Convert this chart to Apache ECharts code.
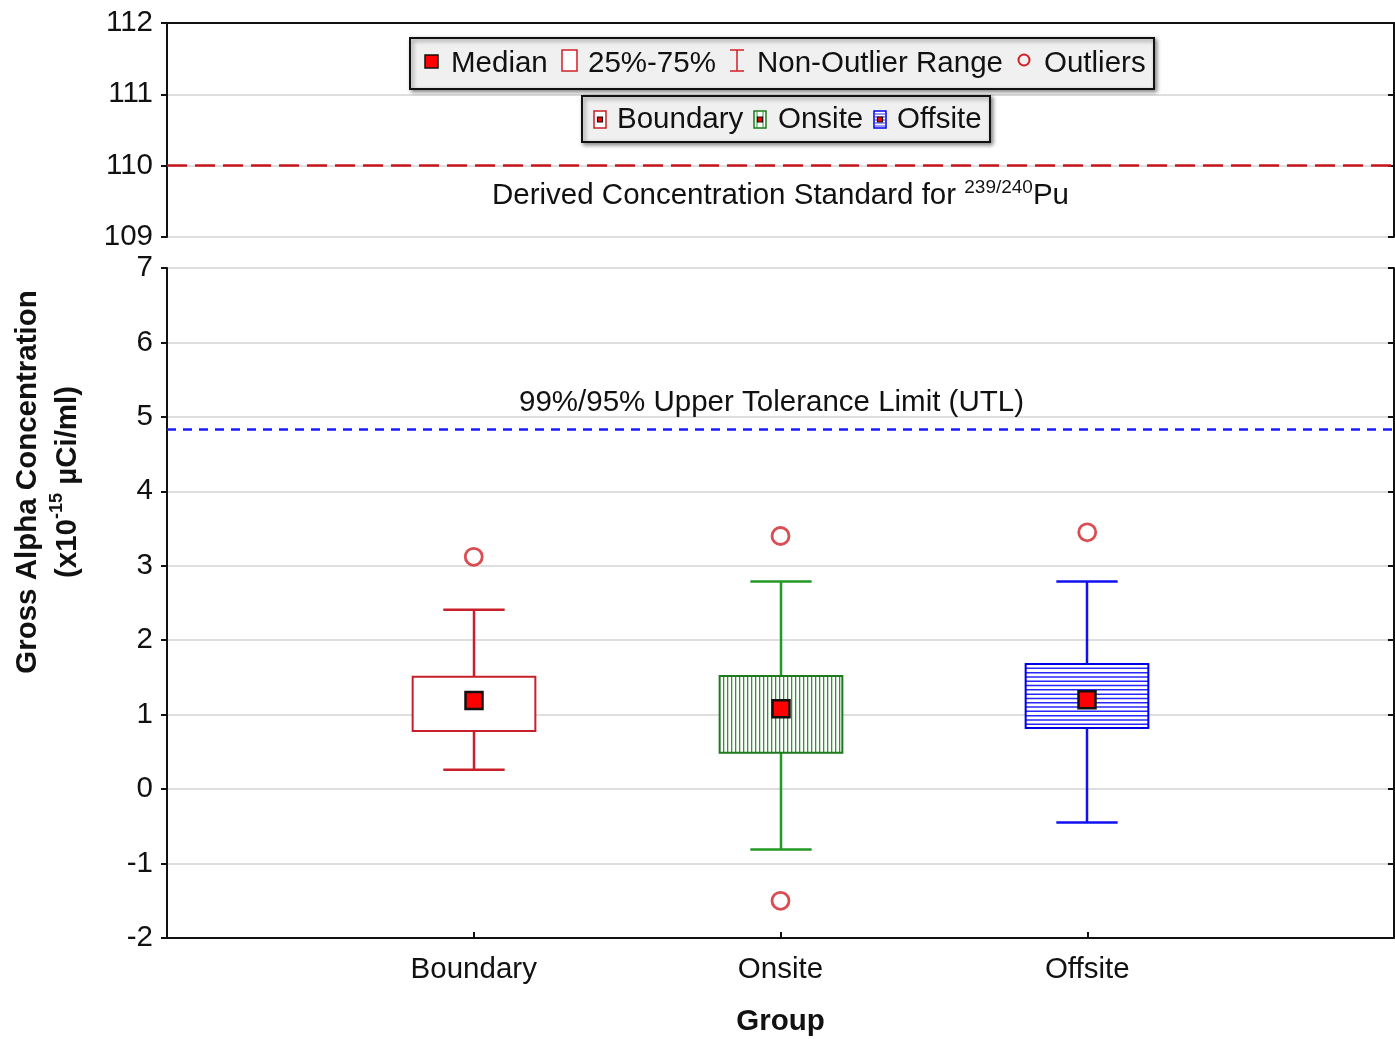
<!DOCTYPE html>
<html>
<head>
<meta charset="utf-8">
<title>Gross Alpha Concentration by Group</title>
<script src="https://cdn.jsdelivr.net/npm/echarts@6/dist/echarts.min.js"></script>
<style>
  html, body { margin: 0; padding: 0; background: #ffffff; }
  #chart { width: 1395px; height: 1039px; }
</style>
</head>
<body>
<div id="chart"></div>
<script>
// ---- Data ----------------------------------------------------------------
const groups = ['Boundary', 'Onsite', 'Offsite'];
const groupPos = [1, 2, 3];                 // position of each group on the x scale
const whiskerLow = [0.26, -0.81, -0.45];    // non-outlier minimum
const q1 = [0.78, 0.49, 0.82];              // 25th percentile
const median = [1.19, 1.08, 1.20];
const q3 = [1.51, 1.52, 1.68];              // 75th percentile
const whiskerHigh = [2.41, 2.79, 2.79];     // non-outlier maximum
const outlierGroup = [1, 2, 2, 3];
const outlierValue = [3.12, 3.40, -1.50, 3.45];
const dcsValue = 110;                       // Derived Concentration Standard
const utlValue = 4.84;                      // 99%/95% Upper Tolerance Limit
const upperTicks = [109, 110, 111, 112];
const lowerTicks = [-2, -1, 0, 1, 2, 3, 4, 5, 6, 7];

// ---- Styling -------------------------------------------------------------
const FONT = "'Liberation Sans', Arial, sans-serif";
const FS = 29.5;
const RED = '#d21f26';
const groupStyle = [
  { stroke: '#c8202a', hatch: null, hatchColor: null },
  { stroke: '#1d7a1d', hatch: 'vertical', hatchColor: '#2e962e' },
  { stroke: '#0000e6', hatch: 'horizontal', hatchColor: '#2828ff' }
];
const whiskerColor = ['#c8202a', '#239a23', '#1010f0'];

const boxData = groupPos.map((x, i) => [x, whiskerLow[i], q1[i], median[i], q3[i], whiskerHigh[i]]);
const outlierData = outlierGroup.map((g, i) => [g, outlierValue[i]]);

// Draws one box: whisker, caps, interquartile box with hatching and the median marker
function renderBox(params, api) {
  const i = params.dataIndex;
  const x = api.value(0);
  const st = groupStyle[i];
  const wc = whiskerColor[i];
  const pLo = api.coord([x, api.value(1)]);
  const pMed = api.coord([x, api.value(3)]);
  const pQ1 = api.coord([x, api.value(2)]);
  const pQ3 = api.coord([x, api.value(4)]);
  const pHi = api.coord([x, api.value(5)]);
  const boxW = api.size([0.4, 0])[0];
  const capW = api.size([0.2, 0])[0];
  const cx = Math.round(pMed[0]);
  const left = cx - boxW / 2, right = cx + boxW / 2;
  const top = pQ3[1], bottom = pQ1[1];
  const children = [];
  const lineStyle = { stroke: wc, lineWidth: 2.5 };
  children.push({ type: 'line', shape: { x1: cx, y1: pLo[1], x2: cx, y2: pHi[1] }, style: lineStyle });
  children.push({ type: 'line', shape: { x1: cx - capW / 2, y1: pLo[1], x2: cx + capW / 2, y2: pLo[1] }, style: lineStyle });
  children.push({ type: 'line', shape: { x1: cx - capW / 2, y1: pHi[1], x2: cx + capW / 2, y2: pHi[1] }, style: lineStyle });
  children.push({ type: 'rect', shape: { x: left, y: top, width: boxW, height: bottom - top }, style: { fill: '#ffffff', stroke: null } });
  if (st.hatch === 'vertical') {
    for (let hx = left + 4; hx < right - 1; hx += 4) {
      children.push({ type: 'line', shape: { x1: hx, y1: top, x2: hx, y2: bottom }, style: { stroke: st.hatchColor, lineWidth: 1.3 } });
    }
  } else if (st.hatch === 'horizontal') {
    for (let hy = top + 4.3; hy < bottom - 1; hy += 4.3) {
      children.push({ type: 'line', shape: { x1: left, y1: hy, x2: right, y2: hy }, style: { stroke: st.hatchColor, lineWidth: 1.5 } });
    }
  }
  children.push({ type: 'rect', shape: { x: left, y: top, width: boxW, height: bottom - top }, style: { fill: null, stroke: st.stroke, lineWidth: 2 } });
  children.push({ type: 'rect', shape: { x: cx - 8.5, y: pMed[1] - 8.5, width: 17, height: 17 }, style: { fill: '#ff0000', stroke: '#111111', lineWidth: 2.5 } });
  return { type: 'group', children: children };
}

// ---- Legend graphics -----------------------------------------------------
function legendText(x, y, text) {
  return { type: 'text', x: x, y: y, z: 11, style: { text: text, font: FS + 'px ' + FONT, fill: '#111111', verticalAlign: 'middle', align: 'left' } };
}
function groupIcon(x, y, color, hatch, hatchColor) {
  const parts = [{ type: 'rect', z: 11, shape: { x: x, y: y, width: 12, height: 17 }, style: { fill: '#ffffff', stroke: color, lineWidth: 1.5 } }];
  if (hatch === 'v') {
    parts.push({ type: 'line', z: 12, shape: { x1: x + 3, y1: y, x2: x + 3, y2: y + 17 }, style: { stroke: hatchColor, lineWidth: 1 } });
    parts.push({ type: 'line', z: 12, shape: { x1: x + 9, y1: y, x2: x + 9, y2: y + 17 }, style: { stroke: hatchColor, lineWidth: 1 } });
  } else if (hatch === 'h') {
    for (let k = 3; k < 17; k += 3) {
      parts.push({ type: 'line', z: 12, shape: { x1: x, y1: y + k, x2: x + 12, y2: y + k }, style: { stroke: hatchColor, lineWidth: 1 } });
    }
  }
  parts.push({ type: 'rect', z: 13, shape: { x: x + 3.5, y: y + 6, width: 5, height: 5 }, style: { fill: '#ff0000', stroke: '#111111', lineWidth: 1.2 } });
  return parts;
}

const legendBoxStyle = { fill: '#f0f0f0', stroke: '#111111', lineWidth: 2, shadowBlur: 4, shadowOffsetX: 2, shadowOffsetY: 2, shadowColor: 'rgba(0,0,0,0.45)' };

const graphics = [
  { type: 'rect', shape: { x: 410, y: 38, width: 744, height: 51 }, style: legendBoxStyle, z: 10 },
  { type: 'rect', shape: { x: 425, y: 55, width: 13, height: 13 }, style: { fill: '#ff0000', stroke: '#111111', lineWidth: 1.5 }, z: 11 },
  legendText(451, 64, 'Median'),
  { type: 'rect', shape: { x: 562, y: 50, width: 15, height: 21 }, style: { fill: '#ffffff', stroke: RED, lineWidth: 1.5 }, z: 11 },
  legendText(588, 64, '25%-75%'),
  { type: 'line', shape: { x1: 737, y1: 50, x2: 737, y2: 71 }, style: { stroke: RED, lineWidth: 1.5 }, z: 11 },
  { type: 'line', shape: { x1: 730, y1: 50, x2: 744, y2: 50 }, style: { stroke: RED, lineWidth: 1.5 }, z: 11 },
  { type: 'line', shape: { x1: 730, y1: 71, x2: 744, y2: 71 }, style: { stroke: RED, lineWidth: 1.5 }, z: 11 },
  legendText(757, 64, 'Non-Outlier Range'),
  { type: 'circle', shape: { cx: 1024, cy: 60, r: 5.5 }, style: { fill: 'none', stroke: RED, lineWidth: 2 }, z: 11 },
  legendText(1044, 64, 'Outliers'),

  { type: 'rect', shape: { x: 582, y: 96, width: 408, height: 46 }, style: legendBoxStyle, z: 10 }
]
  .concat(groupIcon(594, 111, '#c8202a', null, null))
  .concat([legendText(617, 120, 'Boundary')])
  .concat(groupIcon(754, 111, '#1d7a1d', 'v', '#2e962e'))
  .concat([legendText(778, 120, 'Onsite')])
  .concat(groupIcon(874, 111, '#0000e6', 'h', '#3030ff'))
  .concat([legendText(897, 120, 'Offsite')])
  .concat([
    // Y axis title (two lines, rotated)
    {
      type: 'text', x: 48, y: 482, rotation: Math.PI / 2,
      style: {
        text: '{b|Gross Alpha Concentration}\n{b|(x10}{s|-15}{b| µCi/ml)}',
        align: 'center', verticalAlign: 'middle', fill: '#111111',
        rich: {
          b: { font: 'bold 29.5px ' + FONT, lineHeight: 40, fill: '#111111' },
          s: { font: 'bold 18px ' + FONT, verticalAlign: 'top', fill: '#111111', padding: [0, 0, 14, 0] }
        }
      }
    }
  ]);

// ---- Axes ----------------------------------------------------------------
const axisLineBlack = { show: true, onZero: false, lineStyle: { color: '#111111', width: 2 } };
const splitGray = { show: true, lineStyle: { color: '#dedede', width: 2 } };
const tickLabel = { fontFamily: FONT, fontSize: FS, color: '#111111' };

const option = {
  animation: false,
  backgroundColor: '#ffffff',
  grid: [
    { left: 167, right: 1, top: 23, height: 214, outerBoundsMode: 'none', containLabel: false },
    { left: 167, right: 1, top: 268, height: 670, outerBoundsMode: 'none', containLabel: false }
  ],
  xAxis: [
    {
      gridIndex: 0, type: 'value', position: 'top', min: 0, max: 4, interval: 1,
      axisLine: axisLineBlack, axisTick: { show: false }, axisLabel: { show: false }, splitLine: { show: false }
    },
    {
      gridIndex: 1, type: 'value', position: 'bottom', min: 0, max: 4, interval: 1,
      axisLine: axisLineBlack,
      axisTick: { show: true, inside: true, length: 6, lineStyle: { color: '#111111', width: 2 } },
      axisLabel: Object.assign({ margin: 17, formatter: v => (groupPos.indexOf(v) >= 0 ? groups[groupPos.indexOf(v)] : '') }, tickLabel),
      splitLine: { show: false },
      name: 'Group', nameLocation: 'middle', nameGap: 69,
      nameTextStyle: { fontFamily: FONT, fontSize: FS, fontWeight: 'bold', color: '#111111' }
    }
  ],
  yAxis: [
    {
      gridIndex: 0, type: 'value', position: 'left', min: upperTicks[0], max: upperTicks[upperTicks.length - 1], interval: 1,
      axisLine: axisLineBlack,
      axisTick: { show: true, inside: false, length: 6, lineStyle: { color: '#111111', width: 2 } },
      axisLabel: Object.assign({ margin: 14 }, tickLabel),
      splitLine: splitGray
    },
    {
      gridIndex: 0, type: 'value', position: 'right', min: upperTicks[0], max: upperTicks[upperTicks.length - 1], interval: 1,
      axisLine: axisLineBlack,
      axisTick: { show: true, inside: true, length: 6, lineStyle: { color: '#111111', width: 2 } },
      axisLabel: { show: false }, splitLine: { show: false }
    },
    {
      gridIndex: 1, type: 'value', position: 'left', min: lowerTicks[0], max: lowerTicks[lowerTicks.length - 1], interval: 1,
      axisLine: axisLineBlack,
      axisTick: { show: true, inside: false, length: 6, lineStyle: { color: '#111111', width: 2 } },
      axisLabel: Object.assign({ margin: 14 }, tickLabel),
      splitLine: splitGray
    },
    {
      gridIndex: 1, type: 'value', position: 'right', min: lowerTicks[0], max: lowerTicks[lowerTicks.length - 1], interval: 1,
      axisLine: axisLineBlack,
      axisTick: { show: true, inside: true, length: 6, lineStyle: { color: '#111111', width: 2 } },
      axisLabel: { show: false }, splitLine: { show: false }
    }
  ],
  graphic: graphics,
  series: [
    {
      // Derived Concentration Standard reference line
      type: 'line', xAxisIndex: 0, yAxisIndex: 0, data: [], silent: true,
      markLine: {
        silent: true, symbol: ['none', 'none'],
        lineStyle: { color: '#c8141c', width: 2.5, type: [20, 8] },
        label: {
          show: true, position: 'insideMiddleBottom', distance: 13,
          formatter: '{a|Derived Concentration Standard for }{s|239/240}{a|Pu}',
          rich: {
            a: { fontFamily: FONT, fontSize: FS, color: '#111111', lineHeight: 34 },
            s: { fontFamily: FONT, fontSize: 19, color: '#111111', verticalAlign: 'top', padding: [0, 0, 12, 0] }
          }
        },
        data: [{ yAxis: dcsValue }]
      }
    },
    {
      type: 'custom', xAxisIndex: 1, yAxisIndex: 2, clip: false,
      renderItem: renderBox,
      encode: { x: 0, y: [1, 2, 3, 4, 5] },
      data: boxData, z: 3
    },
    {
      type: 'scatter', xAxisIndex: 1, yAxisIndex: 2,
      symbol: 'circle', symbolSize: 17,
      itemStyle: { color: '#ffffff', borderColor: '#d02028', borderWidth: 2.8 },
      data: outlierData, z: 4,
      markLine: {
        silent: true, symbol: ['none', 'none'],
        lineStyle: { color: '#1a1aff', width: 2.5, type: [9, 7] },
        label: {
          show: true, position: 'insideMiddleTop', distance: 11, offset: [-9, 0],
          formatter: '99%/95% Upper Tolerance Limit (UTL)',
          fontFamily: FONT, fontSize: FS, color: '#111111'
        },
        data: [{ yAxis: utlValue }]
      }
    }
  ]
};

const chart = echarts.init(document.getElementById('chart'), null, { renderer: 'canvas' });
chart.setOption(option);
</script>
</body>
</html>
